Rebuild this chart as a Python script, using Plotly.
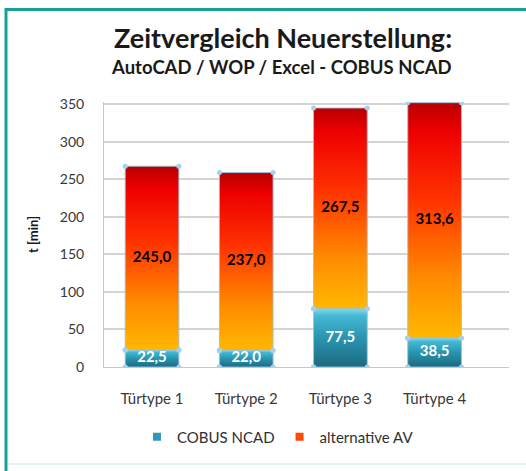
import plotly.graph_objects as go

categories = ["Türtype 1", "Türtype 2", "Türtype 3", "Türtype 4"]
cobus_ncad = [22.5, 22.0, 77.5, 38.5]
alternative_av = [245.0, 237.0, 267.5, 313.6]
y_ticks = [0, 50, 100, 150, 200, 250, 300, 350]

BAR_W = 0.57
FONT = "Lato"

def fmt(v):
    return f"{v:.1f}".replace(".", ",")

fig = go.Figure()

teal_scale = [[0, "#1b6a80"], [0.5, "#2a94b0"], [0.88, "#45b8d4"], [1, "#7fdcf0"]]
orange_scale = [[0, "#ffb800"], [0.25, "#ff8c00"], [0.6, "#ff3000"], [0.88, "#ee0000"], [1, "#b80000"]]

def add_segment(i, base, val, scale):
    x0, x1 = i - BAR_W / 2, i + BAR_W / 2
    y0, y1 = base, base + val
    fig.add_trace(go.Scatter(
        x=[x0, x1, x1, x0, x0], y=[y0, y0, y1, y1, y0],
        mode="lines+markers", fill="toself",
        fillgradient=dict(type="vertical", colorscale=scale, start=y0, stop=y1),
        line=dict(color="rgba(150,195,225,0.9)", width=1),
        marker=dict(size=5, color="#a9d0e8"),
        showlegend=False, hoverinfo="skip",
    ))

for i in range(len(categories)):
    add_segment(i, 0, cobus_ncad[i], teal_scale)
    add_segment(i, cobus_ncad[i], alternative_av[i], orange_scale)

# data labels
fig.add_trace(go.Scatter(
    x=list(range(len(categories))), y=[v / 2 for v in cobus_ncad],
    mode="text", text=[fmt(v) for v in cobus_ncad],
    textfont=dict(family=FONT, size=15, color="white", weight="bold"),
    showlegend=False, hoverinfo="skip",
))
fig.add_trace(go.Scatter(
    x=list(range(len(categories))),
    y=[c + a / 2 for c, a in zip(cobus_ncad, alternative_av)],
    mode="text", text=[fmt(v) for v in alternative_av],
    textfont=dict(family=FONT, size=15, color="black", weight="bold"),
    showlegend=False, hoverinfo="skip",
))

# legend entries
fig.add_trace(go.Scatter(x=[None], y=[None], mode="markers", name="COBUS NCAD",
                         marker=dict(symbol="square", size=8, color="#2a9bb8")))
fig.add_trace(go.Scatter(x=[None], y=[None], mode="markers", name="alternative AV",
                         marker=dict(symbol="square", size=8, color="#ff4a00")))

W, H = 526, 471
L, R, T, B = 104, 17, 102, 104
pw, ph = W - L - R, H - T - B

def px(x):
    return (x - L) / pw

def py(y):
    return (H - B - y) / ph

fig.update_layout(
    width=W, height=H,
    margin=dict(l=L, r=R, t=T, b=B, autoexpand=False),
    paper_bgcolor="white", plot_bgcolor="white",
    font=dict(family=FONT, color="#404040"),
    showlegend=True,
    legend=dict(orientation="h", x=px(278), y=py(437), xanchor="center", yanchor="middle",
                font=dict(size=15, color="#303030"), itemwidth=30, tracegroupgap=0),
    xaxis=dict(range=[-0.51, 3.79], tickvals=list(range(len(categories))), ticktext=categories,
               showgrid=False, zeroline=False, showline=True, linecolor="#c8c8c8", linewidth=1,
               ticks="", tickfont=dict(size=15, color="#383838"), ticklabelstandoff=18),
    yaxis=dict(range=[0, 353], tickvals=y_ticks, showgrid=True, gridcolor="#d4d4d4", gridwidth=1.5,
               zeroline=False, showline=True, linecolor="#c8c8c8", linewidth=1, ticks="",
               tickfont=dict(size=14, color="#383838"), ticklabelstandoff=16),
    annotations=[
        dict(text="<b>Zeitvergleich Neuerstellung:</b>", x=px(283), y=py(37), xref="paper", yref="paper",
             showarrow=False, font=dict(size=27, color="#1a1a1a"), xanchor="center", yanchor="middle"),
        dict(text="<b>AutoCAD / WOP / Excel - COBUS NCAD</b>", x=px(281), y=py(67), xref="paper", yref="paper",
             showarrow=False, font=dict(size=18.5, color="#1a1a1a"), xanchor="center", yanchor="middle"),
        dict(text="<b>t [min]</b>", x=px(33), y=py(235), xref="paper", yref="paper", textangle=-90,
             showarrow=False, font=dict(size=13, color="#1a1a1a"), xanchor="center", yanchor="middle"),
    ],
    shapes=[
        dict(type="line", xref="paper", yref="paper", x0=px(6), x1=px(6), y0=py(8), y1=py(471),
             line=dict(color="#17a096", width=3)),
        dict(type="line", xref="paper", yref="paper", x0=px(5), x1=px(530), y0=py(9.5), y1=py(9.5),
             line=dict(color="#17a096", width=3)),
        dict(type="line", xref="paper", yref="paper", x0=px(8), x1=px(526), y0=py(464), y1=py(464),
             line=dict(color="#e2f1f1", width=2)),
    ],
)

fig.write_html("out.html", config={"displayModeBar": False},
               post_script="document.body.style.margin='0';document.body.style.overflow='hidden';")
